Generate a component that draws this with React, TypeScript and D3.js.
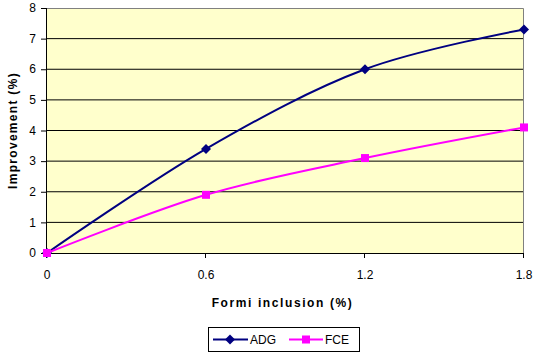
import React from "react";
import * as d3 from "d3";

const inclusion = [0, 0.6, 1.2, 1.8];
const adg = [0, 3.4, 6.0, 7.3];
const fce = [0, 1.9, 3.1, 4.1];
const xTicks = [0, 0.6, 1.2, 1.8];
const yTicks = [0, 1, 2, 3, 4, 5, 6, 7, 8];

const width = 536;
const height = 354;
const margin = { top: 8, right: 12, bottom: 101, left: 47 };
const font = "'Liberation Sans', Arial, sans-serif";

const App: React.FC = () => {
  const x = d3
    .scaleLinear()
    .domain([0, 1.8])
    .range([margin.left, width - margin.right]);
  const y = d3
    .scaleLinear()
    .domain([0, 8])
    .range([height - margin.bottom, margin.top]);

  const line = d3
    .line<number>()
    .x((_, i) => x(inclusion[i]))
    .y((d) => y(d))
    .curve(d3.curveCardinal.tension(0));

  const diamond = (cx: number, cy: number, r: number) =>
    `M${cx},${cy - r}L${cx + r},${cy}L${cx},${cy + r}L${cx - r},${cy}Z`;

  const x0 = x(0);
  const x1 = x(1.8);
  const y0 = y(0);
  const y1 = y(8);

  return (
    <svg
      width={width}
      height={height}
      style={{ position: "absolute", left: 0, top: 0, background: "#fff" }}
      fontFamily={font}
    >
      {/* plot area */}
      <rect x={x0} y={y1} width={x1 - x0} height={y0 - y1} fill="#FFFFCC" />
      {yTicks.slice(1, -1).map((t) => (
        <line key={t} x1={x0} x2={x1} y1={y(t)} y2={y(t)} stroke="#000" />
      ))}
      <path
        d={`M${x0},${y1 + 0.5}H${x1 - 0.5}V${y0}`}
        fill="none"
        stroke="#808080"
      />
      {/* axes */}
      <line x1={x0 - 0.5} x2={x0 - 0.5} y1={y1} y2={y0} stroke="#000" />
      <line x1={x0} x2={x1} y1={y0 + 0.5} y2={y0 + 0.5} stroke="#000" />
      {yTicks.map((t) => (
        <g key={t}>
          <line x1={x0 - 6} x2={x0} y1={y(t) + 0.5} y2={y(t) + 0.5} stroke="#000" />
          <text
            x={x0 - 11}
            y={y(t)}
            dy="0.35em"
            textAnchor="end"
            fontSize={12}
          >
            {t}
          </text>
        </g>
      ))}
      {xTicks.map((t) => (
        <g key={t}>
          <line
            x1={x(t) - 0.5}
            x2={x(t) - 0.5}
            y1={y0}
            y2={y0 + 5}
            stroke="#000"
          />
          <text x={x(t)} y={y0 + 26} textAnchor="middle" fontSize={12}>
            {t}
          </text>
        </g>
      ))}
      {/* axis titles */}
      <text
        x={(x0 + x1) / 2 - 3}
        y={y0 + 54}
        textAnchor="middle"
        fontSize={12}
        fontWeight="bold"
        letterSpacing={1.6}
      >
        Formi inclusion (%)
      </text>
      <text
        transform={`translate(17,${(y0 + y1) / 2}) rotate(-90)`}
        textAnchor="middle"
        fontSize={12}
        fontWeight="bold"
        letterSpacing={1.3}
      >
        Improvement (%)
      </text>
      {/* series */}
      <path d={line(adg) ?? ""} fill="none" stroke="#000080" strokeWidth={2} />
      <path d={line(fce) ?? ""} fill="none" stroke="#FF00FF" strokeWidth={2} />
      {adg.map((v, i) => (
        <path key={i} d={diamond(x(inclusion[i]), y(v), 5)} fill="#000080" />
      ))}
      {fce.map((v, i) => (
        <rect
          key={i}
          x={x(inclusion[i]) - 4}
          y={y(v) - 4}
          width={8}
          height={8}
          fill="#FF00FF"
        />
      ))}
      {/* legend */}
      <rect x={208.5} y={327.5} width={151} height={24} fill="#fff" stroke="#000" />
      <line x1={213} x2={248} y1={339.5} y2={339.5} stroke="#000080" strokeWidth={2} />
      <path d={diamond(230, 339.5, 5)} fill="#000080" />
      <text x={250} y={344} fontSize={12}>
        ADG
      </text>
      <line x1={289} x2={323} y1={339.5} y2={339.5} stroke="#FF00FF" strokeWidth={2} />
      <rect x={302} y={335.5} width={8} height={8} fill="#FF00FF" />
      <text x={325} y={344} fontSize={12}>
        FCE
      </text>
    </svg>
  );
};

export default App;
